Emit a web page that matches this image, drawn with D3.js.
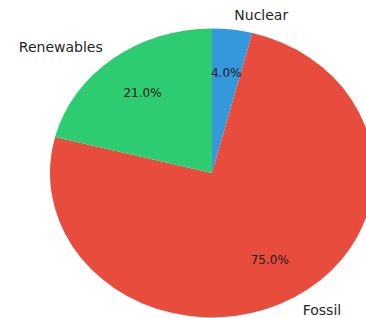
<!DOCTYPE html>
<html>
<head>
<meta charset="utf-8">
<script src="https://cdn.jsdelivr.net/npm/d3@7"></script>
<style>
  body { margin: 0; background: #fff; }
  svg { display: block; }
</style>
</head>
<body>
<div id="chart"></div>
<script>
// Energy mix data (clockwise from the top)
const sources = ["Nuclear", "Fossil", "Renewables"];
const shares = [4.0, 75.0, 21.0];
const colors = ["#3498db", "#e74c3c", "#2ecc71"];

const width = 366, height = 318;
const cx = 212, cy = 173;
const rx = 162, ry = 144.5;  // pie is stretched a little horizontally

const svg = d3.select("#chart").append("svg")
    .attr("width", width)
    .attr("height", height);

const pie = d3.pie().sort(null).value(d => d.value);
const data = pie(sources.map((s, i) => ({ name: s, value: shares[i], color: colors[i] })));

// Draw wedges on a unit circle then stretch into an ellipse
const arc = d3.arc().innerRadius(0).outerRadius(1);
svg.append("g")
    .attr("transform", `translate(${cx},${cy}) scale(${rx},${ry})`)
    .selectAll("path")
    .data(data)
    .enter().append("path")
    .attr("d", arc)
    .style("fill", d => d.data.color);

// Position helper along the middle angle of a slice
function pos(d, k) {
    const a = (d.startAngle + d.endAngle) / 2;
    return [cx + k * rx * Math.sin(a), cy - k * ry * Math.cos(a), Math.sin(a)];
}

// Outer category labels
svg.selectAll(".label")
    .data(data)
    .enter().append("text")
    .attr("class", "label")
    .attr("x", d => pos(d, 1.1)[0])
    .attr("y", d => pos(d, 1.1)[1])
    .attr("dy", "0.35em")
    .style("text-anchor", d => pos(d, 1.1)[2] >= 0 ? "start" : "end")
    .style("font-family", "DejaVu Sans")
    .style("font-size", "14px")
    .style("fill", "#262626")
    .text(d => d.data.name);

// Percent labels inside the slices
svg.selectAll(".pct")
    .data(data)
    .enter().append("text")
    .attr("class", "pct")
    .attr("x", d => pos(d, 0.7)[0])
    .attr("y", d => pos(d, 0.7)[1])
    .attr("dy", "0.35em")
    .style("text-anchor", "middle")
    .style("font-family", "DejaVu Sans")
    .style("font-size", "12px")
    .style("fill", "#1a1a1a")
    .text(d => d3.format(".1f")(d.data.value) + "%");
</script>
</body>
</html>
